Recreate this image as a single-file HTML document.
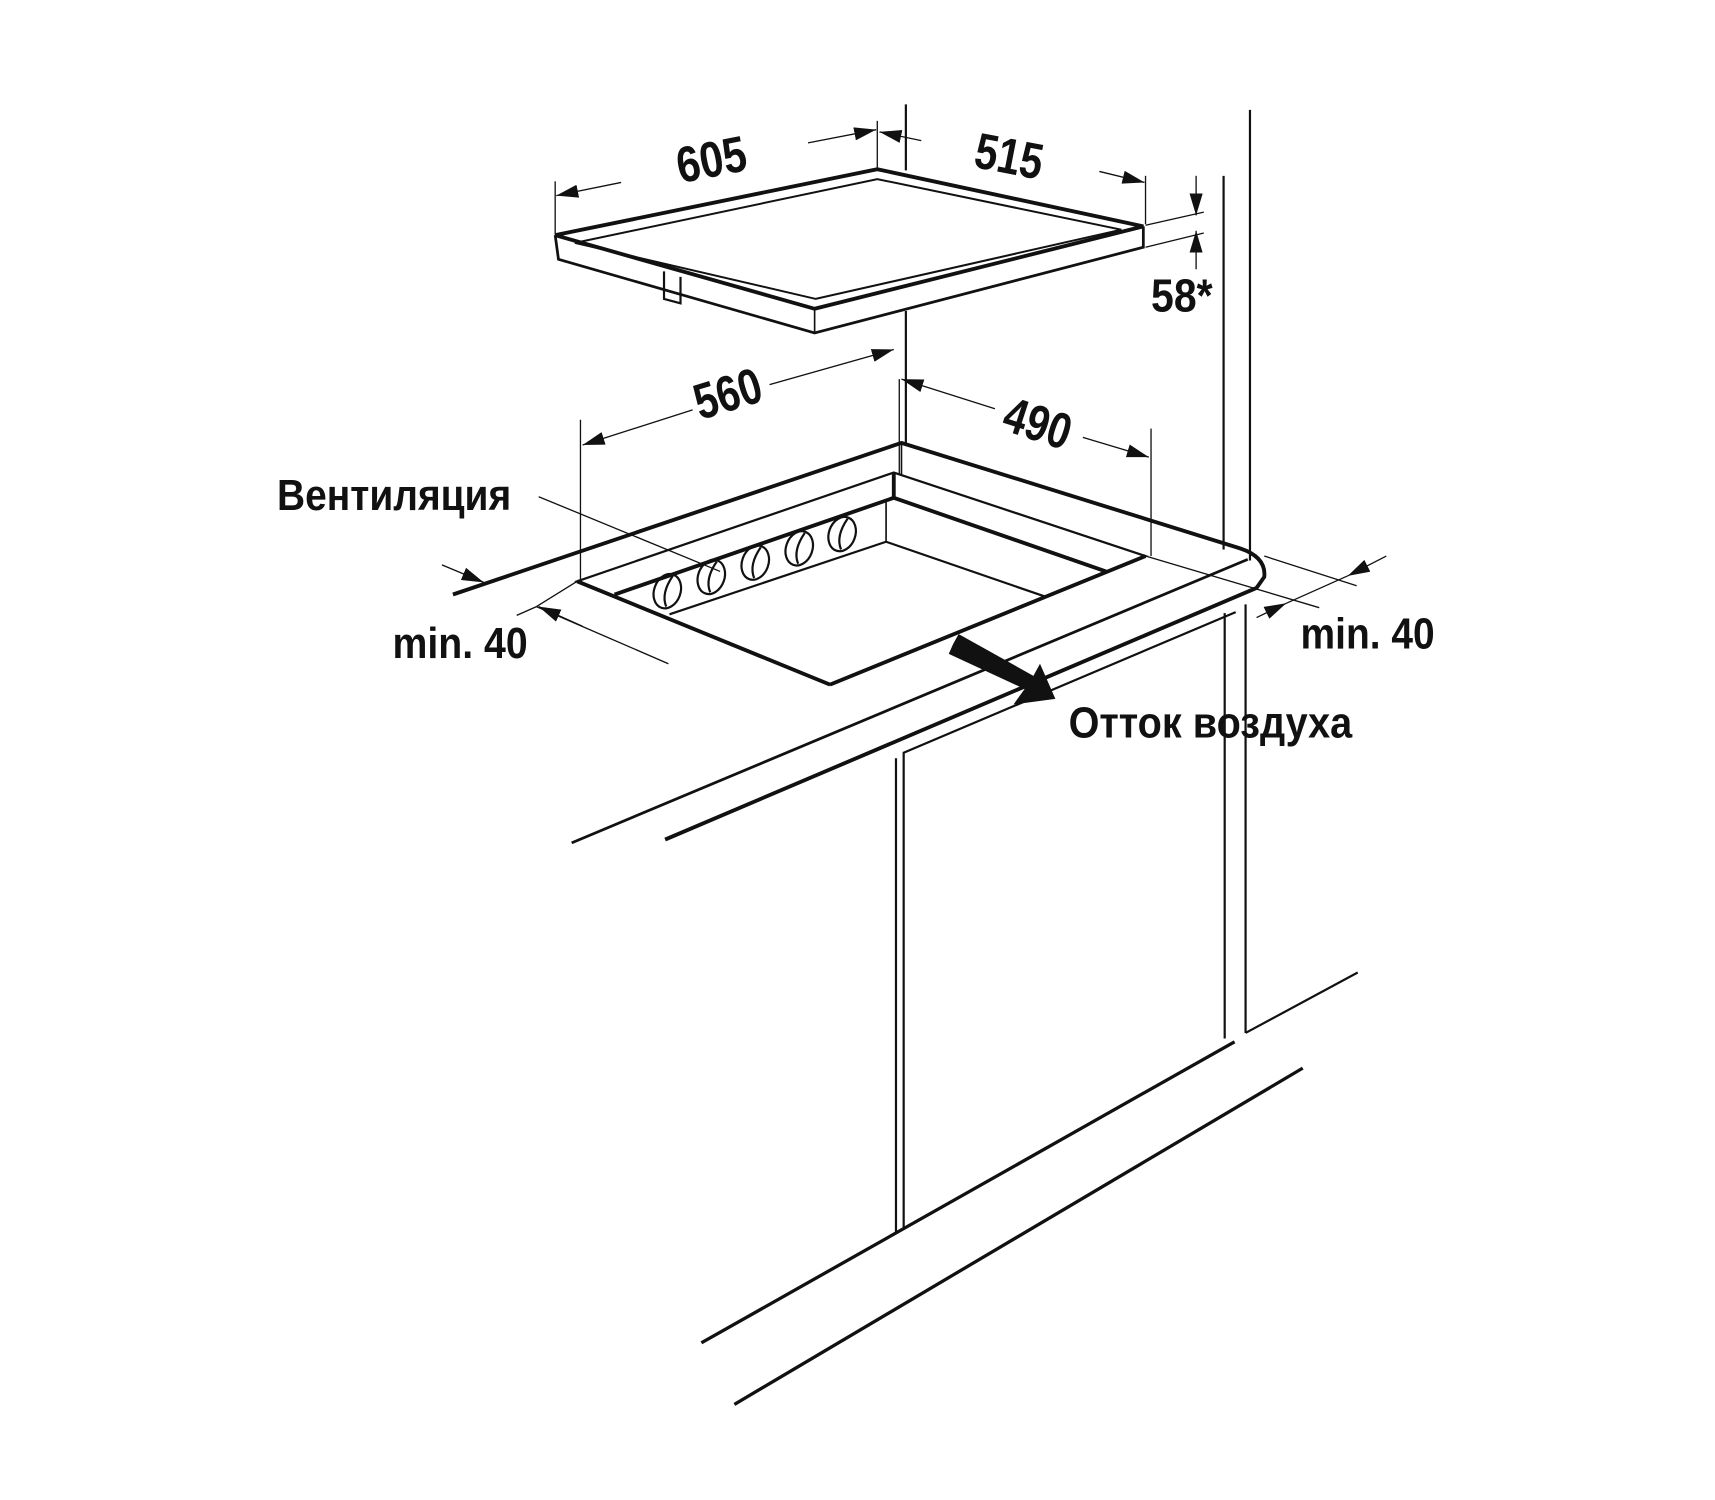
<!DOCTYPE html>
<html><head><meta charset="utf-8"><style>
html,body{margin:0;padding:0;background:#fff;}
svg{display:block}
text{font-family:"Liberation Sans Narrow","Liberation Sans","DejaVu Sans Condensed",sans-serif;font-weight:bold;fill:#111;}
</style></head><body>
<svg width="1715" height="1500" viewBox="0 0 1560 1365" preserveAspectRatio="none" xmlns="http://www.w3.org/2000/svg">
<defs>
<marker id="a" markerWidth="20" markerHeight="12" refX="20" refY="6" orient="auto" markerUnits="userSpaceOnUse">
<path d="M0,0 L20,6 L0,12 Z" fill="#111"/></marker>
</defs>
<g stroke="#111" fill="none" stroke-linecap="butt">
<!-- wall lines -->
<line x1="1113" y1="160" x2="1113" y2="500" stroke-width="2"/>
<line x1="1137" y1="100" x2="1137" y2="510" stroke-width="2"/>
<line x1="1114" y1="558" x2="1114" y2="945" stroke-width="2"/>
<line x1="1133" y1="550" x2="1133" y2="940" stroke-width="2"/>
<!-- back corner vertical -->
<line x1="824" y1="95" x2="824" y2="155" stroke-width="2"/>
<line x1="824" y1="283" x2="824" y2="403" stroke-width="2"/>
<line x1="818" y1="345" x2="818" y2="432" stroke-width="1.2"/>

<!-- hob -->
<path d="M505,214 L798,154 L1040,206 L741,281 Z" stroke-width="3.5" fill="#fff"/>
<path d="M523,221 L798,163 L1020,209 L742,272 Z" stroke-width="1.8"/>
<path d="M505,214 L508,236 L741,303 L1040,225 L1040,206" stroke-width="2.5"/>
<line x1="741" y1="281" x2="741" y2="303" stroke-width="1.5"/>
<path d="M604,247 L604,272 L619,276 L619,252" stroke-width="2"/>

<!-- 605 dim -->
<line x1="505" y1="165" x2="505" y2="213" stroke-width="1.2"/>
<line x1="798" y1="110" x2="798" y2="153" stroke-width="1.2"/>
<line x1="565" y1="166" x2="506" y2="178" stroke-width="1.2" marker-end="url(#a)"/>
<line x1="735" y1="130" x2="797" y2="118" stroke-width="1.2" marker-end="url(#a)"/>
<!-- 515 dim -->
<line x1="1042" y1="160" x2="1042" y2="204" stroke-width="1.2"/>
<line x1="838" y1="128" x2="800" y2="120" stroke-width="1.2" marker-end="url(#a)"/>
<line x1="1000" y1="156" x2="1041" y2="166" stroke-width="1.2" marker-end="url(#a)"/>
<!-- 58 -->
<line x1="1042" y1="205" x2="1095" y2="193" stroke-width="1.2"/>
<line x1="1042" y1="225" x2="1095" y2="212" stroke-width="1.2"/>
<line x1="1088" y1="160" x2="1088" y2="196" stroke-width="1.2" marker-end="url(#a)"/>
<line x1="1088" y1="245" x2="1088" y2="210" stroke-width="1.2" marker-end="url(#a)"/>

<!-- 560 dim -->
<line x1="528" y1="382" x2="528" y2="530" stroke-width="1.2"/>
<line x1="630" y1="373" x2="530" y2="405" stroke-width="1.2" marker-end="url(#a)"/>
<line x1="700" y1="350" x2="813" y2="318" stroke-width="1.2" marker-end="url(#a)"/>
<!-- 490 dim -->
<line x1="1047" y1="390" x2="1047" y2="506" stroke-width="1.2"/>
<line x1="905" y1="372" x2="820" y2="345" stroke-width="1.2" marker-end="url(#a)"/>
<line x1="985" y1="398" x2="1045" y2="416" stroke-width="1.2" marker-end="url(#a)"/>

<!-- counter -->
<path d="M412,541 L820,403 L1128,499 Q1152,507 1150,525 L1143,535 L605,764" stroke-width="3.5" fill="none"/>
<line x1="1135" y1="509" x2="520" y2="767" stroke-width="2.5"/>
<line x1="820" y1="403" x2="820" y2="432" stroke-width="1.5"/>
<!-- cabinet -->
<path d="M1124,557 L822,685 L822,1117" stroke-width="2"/>
<line x1="815" y1="690" x2="815" y2="1121" stroke-width="2"/>
<line x1="638" y1="1222" x2="1123" y2="948" stroke-width="3"/>
<line x1="1133" y1="940" x2="1235" y2="885" stroke-width="2"/>
<line x1="668" y1="1278" x2="1185" y2="972" stroke-width="3"/>

<!-- cutout -->
<path d="M525,529 L813,430 L1042,506 L755,623 Z" stroke-width="2" fill="#fff"/>
<line x1="525" y1="529" x2="755" y2="623" stroke-width="3.5"/>
<line x1="1042" y1="506" x2="755" y2="623" stroke-width="3.5"/>
<path d="M559,541 L813,453 L1006,520" stroke-width="3.5"/>
<line x1="813" y1="430" x2="813" y2="453" stroke-width="3.5"/>
<path d="M609,559 L806,493 L951,543" stroke-width="2"/>
<line x1="806" y1="457" x2="806" y2="493" stroke-width="1.5"/>
<line x1="1042" y1="506" x2="1200" y2="553" stroke-width="1.2"/>

<!-- holes -->
<g stroke-width="2">
<ellipse cx="607" cy="538" rx="12" ry="16" transform="rotate(20 607 538)"/>
<ellipse cx="647" cy="525" rx="12" ry="16" transform="rotate(20 647 525)"/>
<ellipse cx="687" cy="512" rx="12" ry="16" transform="rotate(20 687 512)"/>
<ellipse cx="727" cy="499" rx="12" ry="16" transform="rotate(20 727 499)"/>
<ellipse cx="766" cy="486" rx="12" ry="16" transform="rotate(20 766 486)"/>
<path d="M612,524 Q601,540 606,552"/><path d="M652,511 Q641,527 646,539"/><path d="M692,498 Q681,514 686,526"/><path d="M732,485 Q721,501 726,513"/><path d="M771,472 Q760,488 765,500"/>
</g>

<!-- Вентиляция leader -->
<line x1="490" y1="452" x2="655" y2="520" stroke-width="1.2"/>

<!-- min 40 left -->
<line x1="402" y1="514" x2="440" y2="530" stroke-width="1.2" marker-end="url(#a)"/>
<line x1="525" y1="529" x2="442" y2="565" stroke-width="1.2" marker-end="url(#a)" opacity="0"/>
<line x1="470" y1="560" x2="488" y2="552" stroke-width="1.2"/>
<line x1="488" y1="552" x2="608" y2="604" stroke-width="1.2"/>
<line x1="525" y1="529" x2="488" y2="552" stroke-width="1.2"/>
<line x1="530" y1="570" x2="490" y2="552" stroke-width="1.2" marker-end="url(#a)"/>
<!-- min 40 right -->
<line x1="1150" y1="506" x2="1234" y2="533" stroke-width="1.2"/>
<line x1="1261" y1="506" x2="1226" y2="524" stroke-width="1.2" marker-end="url(#a)"/>
<line x1="1143" y1="562" x2="1170" y2="549" stroke-width="1.2" marker-end="url(#a)"/>
<line x1="1170" y1="549" x2="1226" y2="524" stroke-width="1.2"/>
</g>

<!-- air arrow -->
<path d="M867,586 L872,577 L940,615 L946,604 L960,636 L922,641 L932,627 L863,595 Z" fill="#111" transform="translate(0,0)"/>

<!-- text -->
<text x="647" y="145" font-size="46" text-anchor="middle" dominant-baseline="central" textLength="64" lengthAdjust="spacingAndGlyphs" transform="rotate(-11 647 145)">605</text>
<text x="918" y="142" font-size="46" text-anchor="middle" dominant-baseline="central" textLength="62" lengthAdjust="spacingAndGlyphs" transform="rotate(11 918 142)">515</text>
<text x="1075" y="269" font-size="42" text-anchor="middle" dominant-baseline="central" textLength="56" lengthAdjust="spacingAndGlyphs">58*</text>
<text x="662" y="358" font-size="46" text-anchor="middle" dominant-baseline="central" textLength="62" lengthAdjust="spacingAndGlyphs" transform="rotate(-17 662 358)">560</text>
<text x="944" y="385" font-size="46" text-anchor="middle" dominant-baseline="central" textLength="62" lengthAdjust="spacingAndGlyphs" transform="rotate(18 944 385)">490</text>
<text x="252" y="464" font-size="40" textLength="213" lengthAdjust="spacingAndGlyphs">Вентиляция</text>
<text x="357" y="599" font-size="40" textLength="123" lengthAdjust="spacingAndGlyphs">min. 40</text>
<text x="1183" y="590" font-size="40" textLength="122" lengthAdjust="spacingAndGlyphs">min. 40</text>
<text x="972" y="671" font-size="40" textLength="258" lengthAdjust="spacingAndGlyphs">Отток воздуха</text>
</svg>
</body></html>
